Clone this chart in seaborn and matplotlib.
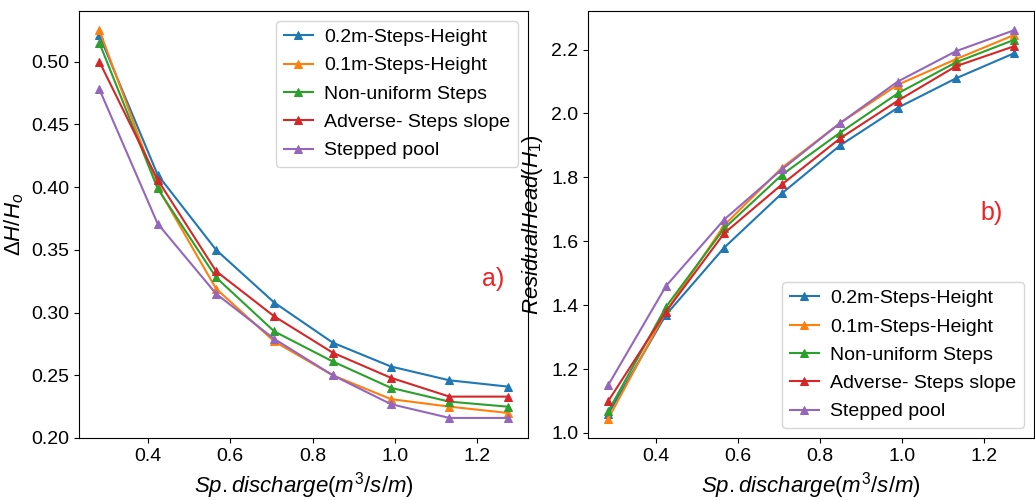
import matplotlib
matplotlib.use("Agg")
import matplotlib.pyplot as plt
import seaborn as sns
import pandas as pd

# ---- data ----
discharge = [0.283, 0.424, 0.566, 0.707, 0.849, 0.990, 1.132, 1.273]
series_names = ["0.2m-Steps-Height", "0.1m-Steps-Height", "Non-uniform Steps",
                "Adverse- Steps slope", "Stepped pool"]

dh_02 = [0.521, 0.410, 0.350, 0.308, 0.276, 0.257, 0.246, 0.241]
dh_01 = [0.525, 0.400, 0.319, 0.277, 0.250, 0.231, 0.225, 0.220]
dh_nu = [0.515, 0.399, 0.328, 0.285, 0.261, 0.240, 0.229, 0.225]
dh_adv = [0.500, 0.406, 0.333, 0.297, 0.268, 0.248, 0.233, 0.233]
dh_pool = [0.478, 0.371, 0.315, 0.279, 0.250, 0.227, 0.216, 0.216]

rh_02 = [1.060, 1.370, 1.580, 1.750, 1.900, 2.018, 2.110, 2.188]
rh_01 = [1.045, 1.380, 1.650, 1.830, 1.970, 2.090, 2.170, 2.245]
rh_nu = [1.068, 1.395, 1.640, 1.808, 1.940, 2.063, 2.160, 2.230]
rh_adv = [1.100, 1.380, 1.625, 1.778, 1.922, 2.040, 2.148, 2.210]
rh_pool = [1.150, 1.460, 1.668, 1.825, 1.970, 2.100, 2.195, 2.260]

dh_series = [dh_02, dh_01, dh_nu, dh_adv, dh_pool]
rh_series = [rh_02, rh_01, rh_nu, rh_adv, rh_pool]
colors = ["#1f77b4", "#ff7f0e", "#2ca02c", "#d62728", "#9467bd"]

# ---- font ----
plt.rcParams['font.family'] = ['Liberation Sans', 'DejaVu Sans']
plt.rcParams['mathtext.fontset'] = 'custom'
plt.rcParams['mathtext.it'] = 'Liberation Sans:italic'
plt.rcParams['mathtext.rm'] = 'Liberation Sans'
plt.rcParams['mathtext.sf'] = 'Liberation Sans'

def long_df(series):
    rows = []
    for name, vals in zip(series_names, series):
        for x, y in zip(discharge, vals):
            rows.append({"q": x, "v": y, "series": name})
    return pd.DataFrame(rows)

fig = plt.figure(figsize=(10.35, 5.0), dpi=100)
ax1 = fig.add_axes([79/1035, 1-438/500, (528-79)/1035, (438-11)/500])
ax2 = fig.add_axes([588/1035, 1-438/500, (1034-588)/1035, (438-11)/500])

for ax, series in [(ax1, dh_series), (ax2, rh_series)]:
    df = long_df(series)
    for name, col in zip(series_names, colors):
        sub = df[df["series"] == name]
        sns.lineplot(data=sub, x="q", y="v", ax=ax, color=col, marker="^",
                     markersize=6, markeredgecolor=col, linewidth=1.5, label=name)
    ax.set_xticks([0.4, 0.6, 0.8, 1.0, 1.2])
    ax.tick_params(labelsize=14)
    ax.set_xlabel(r"$Sp.discharge(m^3/s/m)$", fontsize=16)

ax1.set_ylabel(r"$\Delta H/H_o$", fontsize=16)
ax2.set_ylabel(r"$ResidualHead(H_1)$", fontsize=16)
ax1.set_yticks([0.20, 0.25, 0.30, 0.35, 0.40, 0.45, 0.50])
ax1.set_yticklabels(["0.20", "0.25", "0.30", "0.35", "0.40", "0.45", "0.50"])
ax2.set_yticks([1.0, 1.2, 1.4, 1.6, 1.8, 2.0, 2.2])

ax1.legend(loc="upper right", fontsize=14, labelspacing=0.55,
           handlelength=1.5, handletextpad=0.6)
ax2.legend(loc="lower right", fontsize=14, labelspacing=0.55,
           handlelength=1.5, handletextpad=0.6)

ax1.text(1.237, 0.327, "a)", color="#ee2222", fontsize=18, ha="center", va="center")
ax2.text(1.218, 1.69, "b)", color="#ee2222", fontsize=18, ha="center", va="center")

fig.savefig("out.png", dpi=100)
